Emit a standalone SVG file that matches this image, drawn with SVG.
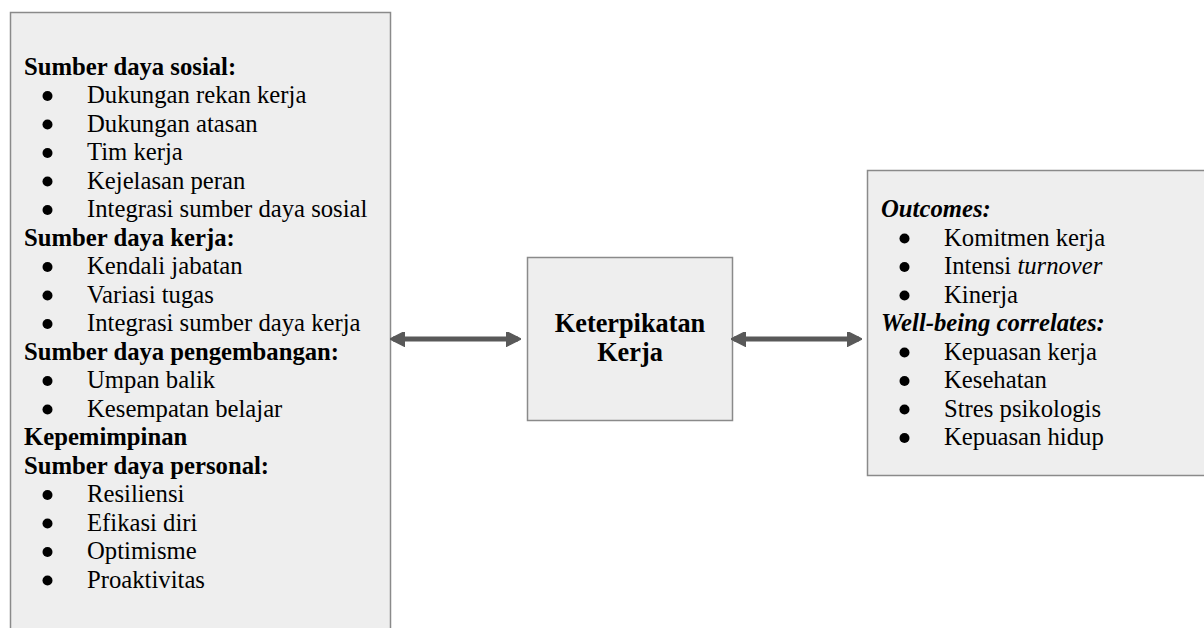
<svg xmlns="http://www.w3.org/2000/svg" width="1204" height="628" viewBox="0 0 1204 628">
<defs>
<style>
.box{fill:#eeeeee;stroke:#8a8a8a;stroke-width:1.5}
text{font-family:'Liberation Serif',serif;font-size:24.7px;fill:#000}
.h{font-weight:bold}
.hi{font-weight:bold;font-style:italic}
.c{font-weight:bold;font-size:26.3px;text-anchor:middle}
.b{fill:#000}
.arr{stroke:#595959;stroke-width:5;fill:none}
</style>
<marker id="ah" viewBox="0 0 10 10" refX="8" refY="5" markerWidth="3" markerHeight="3" orient="auto-start-reverse" markerUnits="strokeWidth">
<path d="M0,0 L10,5 L0,10 z" fill="#595959" stroke="#595959" stroke-width="1" stroke-linejoin="round"/>
</marker>
</defs>
<rect width="1204" height="628" fill="#ffffff"/>
<g id="left">
<rect class="box" x="10.5" y="12.5" width="380" height="630"/>
<text class="h" x="24" y="74.5">Sumber daya sosial:</text>
<circle class="b" cx="47.5" cy="96" r="5"/><text x="87" y="103">Dukungan rekan kerja</text>
<circle class="b" cx="47.5" cy="124.5" r="5"/><text x="87" y="131.5">Dukungan atasan</text>
<circle class="b" cx="47.5" cy="153" r="5"/><text x="87" y="160">Tim kerja</text>
<circle class="b" cx="47.5" cy="181.5" r="5"/><text x="87" y="188.5">Kejelasan peran</text>
<circle class="b" cx="47.5" cy="210" r="5"/><text x="87" y="217">Integrasi sumber daya sosial</text>
<text class="h" x="24" y="245.5">Sumber daya kerja:</text>
<circle class="b" cx="47.5" cy="267" r="5"/><text x="87" y="274">Kendali jabatan</text>
<circle class="b" cx="47.5" cy="295.5" r="5"/><text x="87" y="302.5">Variasi tugas</text>
<circle class="b" cx="47.5" cy="324" r="5"/><text x="87" y="331">Integrasi sumber daya kerja</text>
<text class="h" x="24" y="359.5">Sumber daya pengembangan:</text>
<circle class="b" cx="47.5" cy="381" r="5"/><text x="87" y="388">Umpan balik</text>
<circle class="b" cx="47.5" cy="409.5" r="5"/><text x="87" y="416.5">Kesempatan belajar</text>
<text class="h" x="24" y="445">Kepemimpinan</text>
<text class="h" x="24" y="473.5">Sumber daya personal:</text>
<circle class="b" cx="47.5" cy="495" r="5"/><text x="87" y="502">Resiliensi</text>
<circle class="b" cx="47.5" cy="523.5" r="5"/><text x="87" y="530.5">Efikasi diri</text>
<circle class="b" cx="47.5" cy="552" r="5"/><text x="87" y="559">Optimisme</text>
<circle class="b" cx="47.5" cy="580.5" r="5"/><text x="87" y="587.5">Proaktivitas</text>
</g>
<g id="center">
<rect class="box" x="527.5" y="257.5" width="205" height="163"/>
<text class="c" x="630" y="331.5">Keterpikatan</text>
<text class="c" x="630" y="361">Kerja</text>
</g>
<g id="right">
<rect class="box" x="867.5" y="170.5" width="345" height="305"/>
<text class="hi" x="881" y="217">Outcomes:</text>
<circle class="b" cx="904.5" cy="238.5" r="5"/><text x="944" y="245.5">Komitmen kerja</text>
<circle class="b" cx="904.5" cy="267" r="5"/><text x="944" y="274">Intensi <tspan font-style="italic">turnover</tspan></text>
<circle class="b" cx="904.5" cy="295.5" r="5"/><text x="944" y="302.5">Kinerja</text>
<text class="hi" x="881" y="331">Well-being correlates:</text>
<circle class="b" cx="904.5" cy="352.5" r="5"/><text x="944" y="359.5">Kepuasan kerja</text>
<circle class="b" cx="904.5" cy="381" r="5"/><text x="944" y="388">Kesehatan</text>
<circle class="b" cx="904.5" cy="409.5" r="5"/><text x="944" y="416.5">Stres psikologis</text>
<circle class="b" cx="904.5" cy="438" r="5"/><text x="944" y="445">Kepuasan hidup</text>
</g>
<g id="connectors">
<line class="arr" x1="393" y1="339" x2="518" y2="339" marker-start="url(#ah)" marker-end="url(#ah)"/>
<line class="arr" x1="734" y1="339" x2="859" y2="339" marker-start="url(#ah)" marker-end="url(#ah)"/>
</g>
</svg>
